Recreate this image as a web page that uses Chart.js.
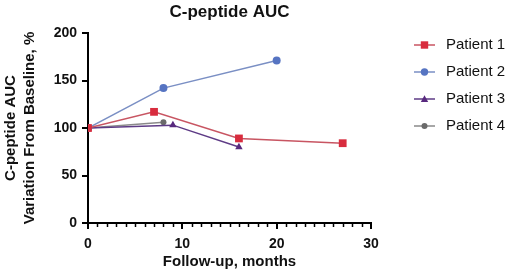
<!DOCTYPE html>
<html>
<head>
<meta charset="utf-8">
<script src="https://cdn.jsdelivr.net/npm/chart.js@4"></script>
<style>
  body { margin: 0; background: #fff; }
  canvas { display: block; }
</style>
</head>
<body>
<canvas id="chart" width="510" height="274"></canvas>
<script>
// months of follow-up and % of baseline for each patient
const p1Months = [0, 7, 16, 27];
const p1Values = [100, 117, 89, 84];
const p2Months = [0, 8, 20];
const p2Values = [100, 142, 171];
const p3Months = [0, 9, 16];
const p3Values = [100, 103, 80];
const p4Months = [0, 8];
const p4Values = [100, 106];

const seriesNames = ['Patient 1', 'Patient 2', 'Patient 3', 'Patient 4'];
const xTicks = [0, 10, 20, 30];
const yTicks = [0, 50, 100, 150, 200];

const FONT = '"Liberation Sans", Arial, sans-serif';

const toPoints = (xs, ys) => xs.map((x, i) => ({ x: x, y: ys[i] }));

const styles = [
  { line: '#c85562', fill: '#d82c3e', shape: 'rect', r: 5.5 },
  { line: '#7a8fc4', fill: '#5674c2', shape: 'circle', r: 4 },
  { line: '#5e3b86', fill: '#58297e', shape: 'triangle', r: 4.3 },
  { line: '#8a8a8a', fill: '#6a6a6a', shape: 'circle', r: 3 }
];

const allData = [
  toPoints(p1Months, p1Values),
  toPoints(p2Months, p2Values),
  toPoints(p3Months, p3Values),
  toPoints(p4Months, p4Values)
];

const datasets = allData.map((d, i) => ({
  label: seriesNames[i],
  data: d,
  borderColor: styles[i].line,
  borderWidth: 1.5,
  pointStyle: styles[i].shape,
  pointRadius: styles[i].r,
  pointBackgroundColor: styles[i].fill,
  pointBorderColor: styles[i].fill,
  pointBorderWidth: 0,
  tension: 0
}));

// title centred over the plot area, minor x ticks and a legend with line samples
const extras = {
  id: 'extras',
  afterDraw(chart) {
    const ctx = chart.ctx;
    const area = chart.chartArea;
    ctx.save();
    ctx.fillStyle = '#111';
    ctx.font = 'bold 17px ' + FONT;
    ctx.textAlign = 'center';
    ctx.textBaseline = 'middle';
    ctx.fillText('C-peptide AUC', (area.left + area.right) / 2, 12);

    const xs = chart.scales.x;
    ctx.strokeStyle = '#000';
    ctx.lineWidth = 1.5;
    for (let m = 0; m <= 30; m++) {
      if (m % 10 === 0) continue;
      const px = Math.round(xs.getPixelForValue(m)) + 0.5;
      ctx.beginPath();
      ctx.moveTo(px, area.bottom);
      ctx.lineTo(px, area.bottom + 4);
      ctx.stroke();
    }

    ctx.font = '15px ' + FONT;
    ctx.textAlign = 'left';
    chart.data.datasets.forEach((ds, i) => {
      const y = 45 + i * 27;
      ctx.strokeStyle = ds.borderColor;
      ctx.lineWidth = 1.5;
      ctx.beginPath();
      ctx.moveTo(414, y);
      ctx.lineTo(435, y);
      ctx.stroke();
      ctx.fillStyle = ds.pointBackgroundColor;
      const r = i === 3 ? 3 : 3.7;
      ctx.beginPath();
      if (ds.pointStyle === 'rect') {
        ctx.rect(424.5 - r, y - r, 2 * r, 2 * r);
      } else if (ds.pointStyle === 'triangle') {
        ctx.moveTo(424.5, y - r);
        ctx.lineTo(424.5 + r, y + r * 0.8);
        ctx.lineTo(424.5 - r, y + r * 0.8);
        ctx.closePath();
      } else {
        ctx.arc(424.5, y, r, 0, Math.PI * 2);
      }
      ctx.fill();
      ctx.fillStyle = '#111';
      ctx.fillText(ds.label, 446, y);
    });
    ctx.restore();
  }
};

new Chart(document.getElementById('chart'), {
  type: 'line',
  data: { datasets: datasets },
  options: {
    responsive: false,
    animation: false,
    layout: { padding: { top: 33, right: 139, bottom: 0, left: 0 } },
    plugins: {
      legend: { display: false },
      tooltip: { enabled: false }
    },
    scales: {
      x: {
        type: 'linear',
        min: 0,
        max: 30,
        afterBuildTicks: (scale) => { scale.ticks = xTicks.map(v => ({ value: v })); },
        afterFit: (scale) => { scale.height = 51; },
        border: { color: '#000', width: 2 },
        grid: { drawOnChartArea: false, color: '#000', lineWidth: 2, tickLength: 6 },
        ticks: { color: '#111', font: { family: FONT, size: 14, weight: 'bold' }, padding: 7, maxRotation: 0 },
        title: {
          display: true,
          text: 'Follow-up, months',
          color: '#111',
          font: { family: FONT, size: 15, weight: 'bold' },
          padding: { top: 0, bottom: 3 }
        }
      },
      y: {
        min: 0,
        max: 200,
        afterBuildTicks: (scale) => { scale.ticks = yTicks.map(v => ({ value: v })); },
        afterFit: (scale) => { scale.width = 88; },
        border: { color: '#000', width: 2 },
        grid: { drawOnChartArea: false, color: '#000', lineWidth: 2, tickLength: 6 },
        ticks: { color: '#111', font: { family: FONT, size: 14, weight: 'bold' }, padding: 5 },
        title: {
          display: true,
          text: ['C-peptide AUC', 'Variation From Baseline, %'],
          color: '#111',
          font: { family: FONT, size: 15, weight: 'bold', lineHeight: 1.3 },
          padding: { top: 1, bottom: 4 }
        }
      }
    }
  },
  plugins: [extras]
});
</script>
</body>
</html>
